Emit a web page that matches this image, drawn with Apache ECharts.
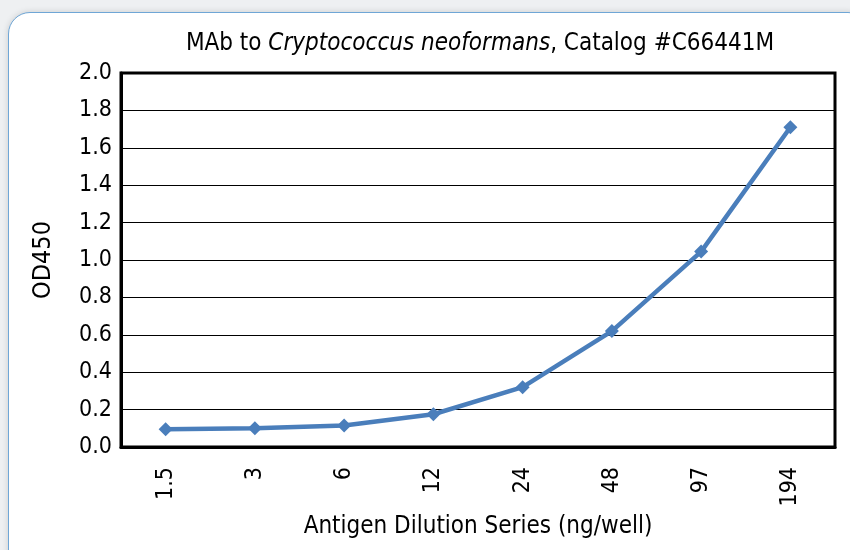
<!DOCTYPE html>
<html><head><meta charset="utf-8">
<script src="https://cdn.jsdelivr.net/npm/echarts@6/dist/echarts.min.js"></script>
<style>
html,body{margin:0;padding:0;width:850px;height:550px;overflow:hidden;background:#eef0f2;}
#frame{position:absolute;left:8px;top:12px;width:860px;height:560px;background:#fff;border:1.5px solid #6fa6d6;border-radius:22px;box-shadow:0 0 6px rgba(0,0,0,0.15);}
#c{position:absolute;left:0;top:0;width:850px;height:550px;}
</style></head><body>
<div id="frame"></div>
<div id="c"></div>
<script>
const categories = ['1.5','3','6','12','24','48','97','194'];
const od450 = [0.095, 0.10, 0.115, 0.175, 0.32, 0.62, 1.045, 1.71];
const yTicks = [0, 0.2, 0.4, 0.6, 0.8, 1.0, 1.2, 1.4, 1.6, 1.8, 2.0];

const FONT = '"DejaVu Sans Condensed", "Liberation Sans Narrow", sans-serif';
const chart = echarts.init(document.getElementById('c'), null, {renderer:'canvas'});
chart.setOption({
  backgroundColor: 'transparent',
  animation: false,
  title: {
    text: '{n|MAb to }{i|Cryptococcus neoformans}{n|, Catalog #C66441M}',
    left: 475, top: 27, textAlign: 'center',
    textStyle: {
      fontWeight: 'normal',
      rich: {
        n: {fontFamily: FONT, fontSize: 24, fontWeight: 'normal', color: '#000'},
        i: {fontFamily: FONT, fontSize: 24, fontWeight: 'normal', fontStyle: 'italic', color: '#000'}
      }
    }
  },
  grid: {left: 121, right: 15, top: 73, bottom: 103, show: true, borderColor: '#000', borderWidth: 3, backgroundColor: 'transparent'},
  xAxis: {
    type: 'category', data: categories, boundaryGap: true,
    name: 'Antigen Dilution Series (ng/well)', nameLocation: 'middle', nameGap: 68,
    nameTextStyle: {fontFamily: FONT, fontSize: 24, color: '#000'},
    axisLine: {lineStyle: {color: '#000', width: 3}},
    axisTick: {show: false},
    axisLabel: {rotate: 90, fontFamily: FONT, fontSize: 23, color: '#000', margin: 20}
  },
  yAxis: {
    type: 'value', min: 0, max: 2.0, interval: 0.2,
    name: 'OD450', nameLocation: 'middle', nameGap: 65,
    nameTextStyle: {fontFamily: FONT, fontSize: 25, color: '#000'},
    axisLine: {show: true, lineStyle: {color: '#000', width: 3}},
    axisTick: {show: false},
    splitLine: {lineStyle: {color: '#000', width: 1}},
    axisLabel: {fontFamily: FONT, fontSize: 23, color: '#000', margin: 9,
      formatter: v => { const t = yTicks.find(x => Math.abs(x - v) < 1e-6); return (t !== undefined ? t : v).toFixed(1); }}
  },
  series: [{
    type: 'line', data: od450,
    lineStyle: {color: '#4a7ebb', width: 4.5},
    itemStyle: {color: '#4a7ebb'},
    symbol: 'diamond', symbolSize: 14, showSymbol: true
  }]
});
</script>
</body></html>
